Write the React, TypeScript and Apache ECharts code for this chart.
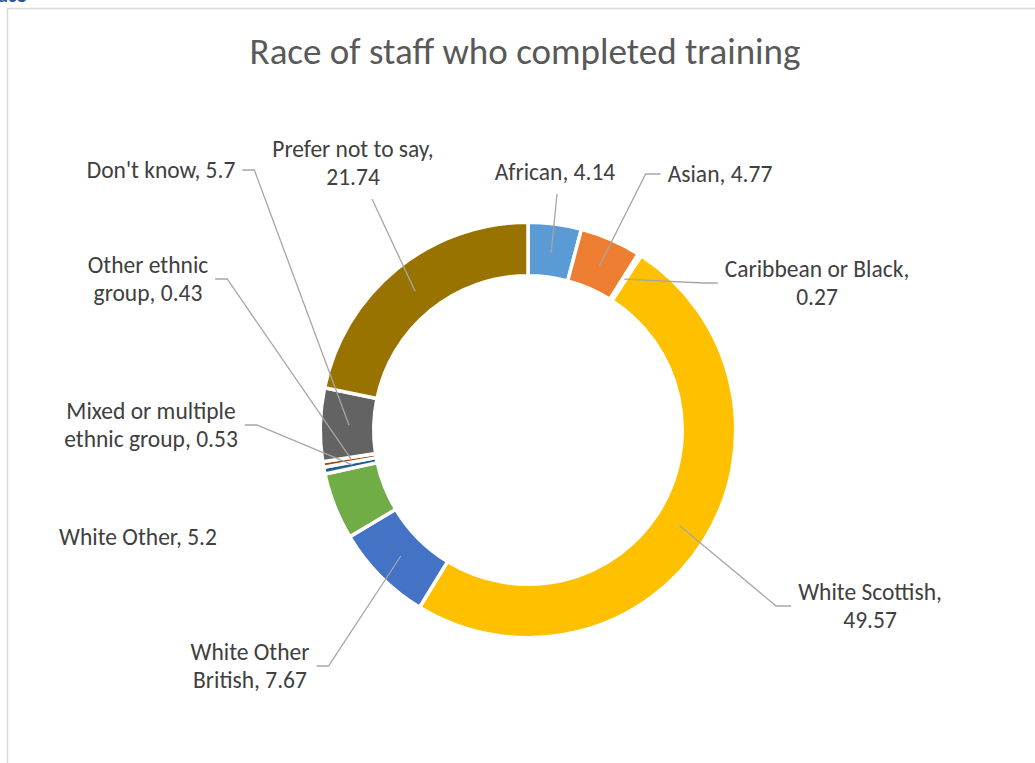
import React, { useEffect, useRef } from 'react';
import * as echarts from 'echarts';

// ---- data ----
const categories = [
  'African',
  'Asian',
  'Caribbean or Black',
  'White Scottish',
  'White Other British',
  'White Other',
  'Mixed or multiple ethnic group',
  'Other ethnic group',
  "Don't know",
  'Prefer not to say',
];
const values = [4.14, 4.77, 0.27, 49.57, 7.67, 5.2, 0.53, 0.43, 5.7, 21.74];
// number of words on the first line of each data label (0 = single line)
const firstLineWords = [0, 0, 3, 2, 2, 0, 3, 2, 0, 4];
const titleText = 'Race of staff who completed training';

// ---- styles / layout ----
const colors = ['#5B9BD5', '#ED7D31', '#A5A5A5', '#FFC000', '#4472C4', '#70AD47', '#255E91', '#9E480E', '#636363', '#997300'];
const CX = 528;
const CY = 430;
const R_IN = 154.25;
const R_OUT = 207.75;
const R_MID = 179;
// label centre positions and side the leader line leaves from
const labelPos: [number, number, string, number][] = [
  [555, 172, 'bottom', 2],
  [720, 174, 'left', 0],
  [817, 283, 'left', 0],
  [870, 606, 'left', 0],
  [250, 666, 'right', 0],
  [138, 537, 'none', 0],
  [151, 425, 'right', 0],
  [148, 279, 'right', 0],
  [161, 170, 'right', 0],
  [353, 163, 'bottom', 19],
];
const FONT = 'Calibri, Carlito, Lato, "Liberation Sans", sans-serif';

function labelText(i: number) {
  const words = `${categories[i]}, ${values[i]}`.split(' ');
  const n = firstLineWords[i];
  if (!n) return words.join(' ');
  return words.slice(0, n).join(' ') + '\n' + words.slice(n).join(' ');
}

export default function App() {
  const ref = useRef<HTMLDivElement>(null);
  useEffect(() => {
    if (!ref.current) return;
    const chart = echarts.init(ref.current, undefined, { renderer: 'svg' });
    const pieData = categories.map((name, i) => ({
      name,
      value: values[i],
      itemStyle: { color: colors[i] },
    }));
    chart.setOption({
      animation: false,
      backgroundColor: '#ffffff',
      graphic: [
        {
          type: 'rect',
          silent: true,
          z: -10,
          shape: { x: 7.5, y: 8.5, width: 1100, height: 800 },
          style: { fill: '#ffffff', stroke: '#D9D9D9', lineWidth: 1.5 },
        },
        {
          type: 'text',
          silent: true,
          x: -2,
          y: 5,
          style: {
            text: 'ace',
            fill: '#2F5597',
            font: `bold 20px ${FONT}`,
            verticalAlign: 'bottom',
            align: 'left',
          },
        },
        {
          type: 'text',
          silent: true,
          x: 525,
          y: 51,
          style: {
            text: titleText,
            fill: '#595959',
            fontFamily: FONT,
            fontWeight: 300,
            fontSize: 37,
            align: 'center',
            verticalAlign: 'middle',
          },
        },
      ],
      series: [
        {
          // coloured ring
          type: 'pie',
          z: 2,
          silent: true,
          center: [CX, CY],
          radius: [R_IN, R_OUT],
          startAngle: 90,
          clockwise: true,
          itemStyle: { borderColor: '#ffffff', borderWidth: 3.5 },
          label: { show: false },
          labelLine: { show: false },
          emphasis: { disabled: true },
          data: pieData,
        },
        {
          // data labels and leader lines, drawn above the ring
          type: 'pie',
          z: 4,
          silent: true,
          center: [CX, CY],
          radius: [R_IN, R_OUT],
          startAngle: 90,
          clockwise: true,
          avoidLabelOverlap: false,
          emphasis: { disabled: true },
          itemStyle: { color: 'transparent', borderWidth: 0 },
          label: {
            show: true,
            position: 'outside',
            color: '#404040',
            fontFamily: FONT,
            fontSize: 23.5,
            lineHeight: 28,
            align: 'center',
            formatter: (p: any) => labelText(p.dataIndex),
          },
          labelLine: {
            show: true,
            length: 15,
            length2: 10,
            lineStyle: { color: '#A6A6A6', width: 1.3 },
          },
          labelLayout: (params: any) => {
            const i = params.dataIndex;
            const [x, y, side, off] = labelPos[i];
            const w = params.labelRect.width;
            const h = params.labelRect.height;
            let pts: number[][] | undefined;
            const p0 = params.labelLinePoints && params.labelLinePoints[0];
            if (p0 && side !== 'none') {
              const dx = p0[0] - CX;
              const dy = p0[1] - CY;
              const len = Math.hypot(dx, dy) || 1;
              const mid = [CX + (dx / len) * R_MID, CY + (dy / len) * R_MID];
              if (side === 'left') {
                const a = [x - w / 2 - 7, y];
                pts = [mid, [a[0] - 15, y], a];
              } else if (side === 'right') {
                const a = [x + w / 2 + 7, y];
                pts = [mid, [a[0] + 12, y], a];
              } else {
                const a = [x + off, y + h / 2 + 8];
                pts = [mid, a, a];
              }
            }
            const out: any = { x, y, align: 'center', verticalAlign: 'middle' };
            if (pts) out.labelLinePoints = pts;
            return out;
          },
          data: categories.map((name, i) => ({
            name,
            value: values[i],
            labelLine: { show: labelPos[i][2] !== 'none' },
          })),
        },
      ],
    });
    return () => chart.dispose();
  }, []);
  return (
    <div
      ref={ref}
      style={{ position: 'fixed', left: 0, top: 0, width: 1035, height: 763 }}
    />
  );
}
